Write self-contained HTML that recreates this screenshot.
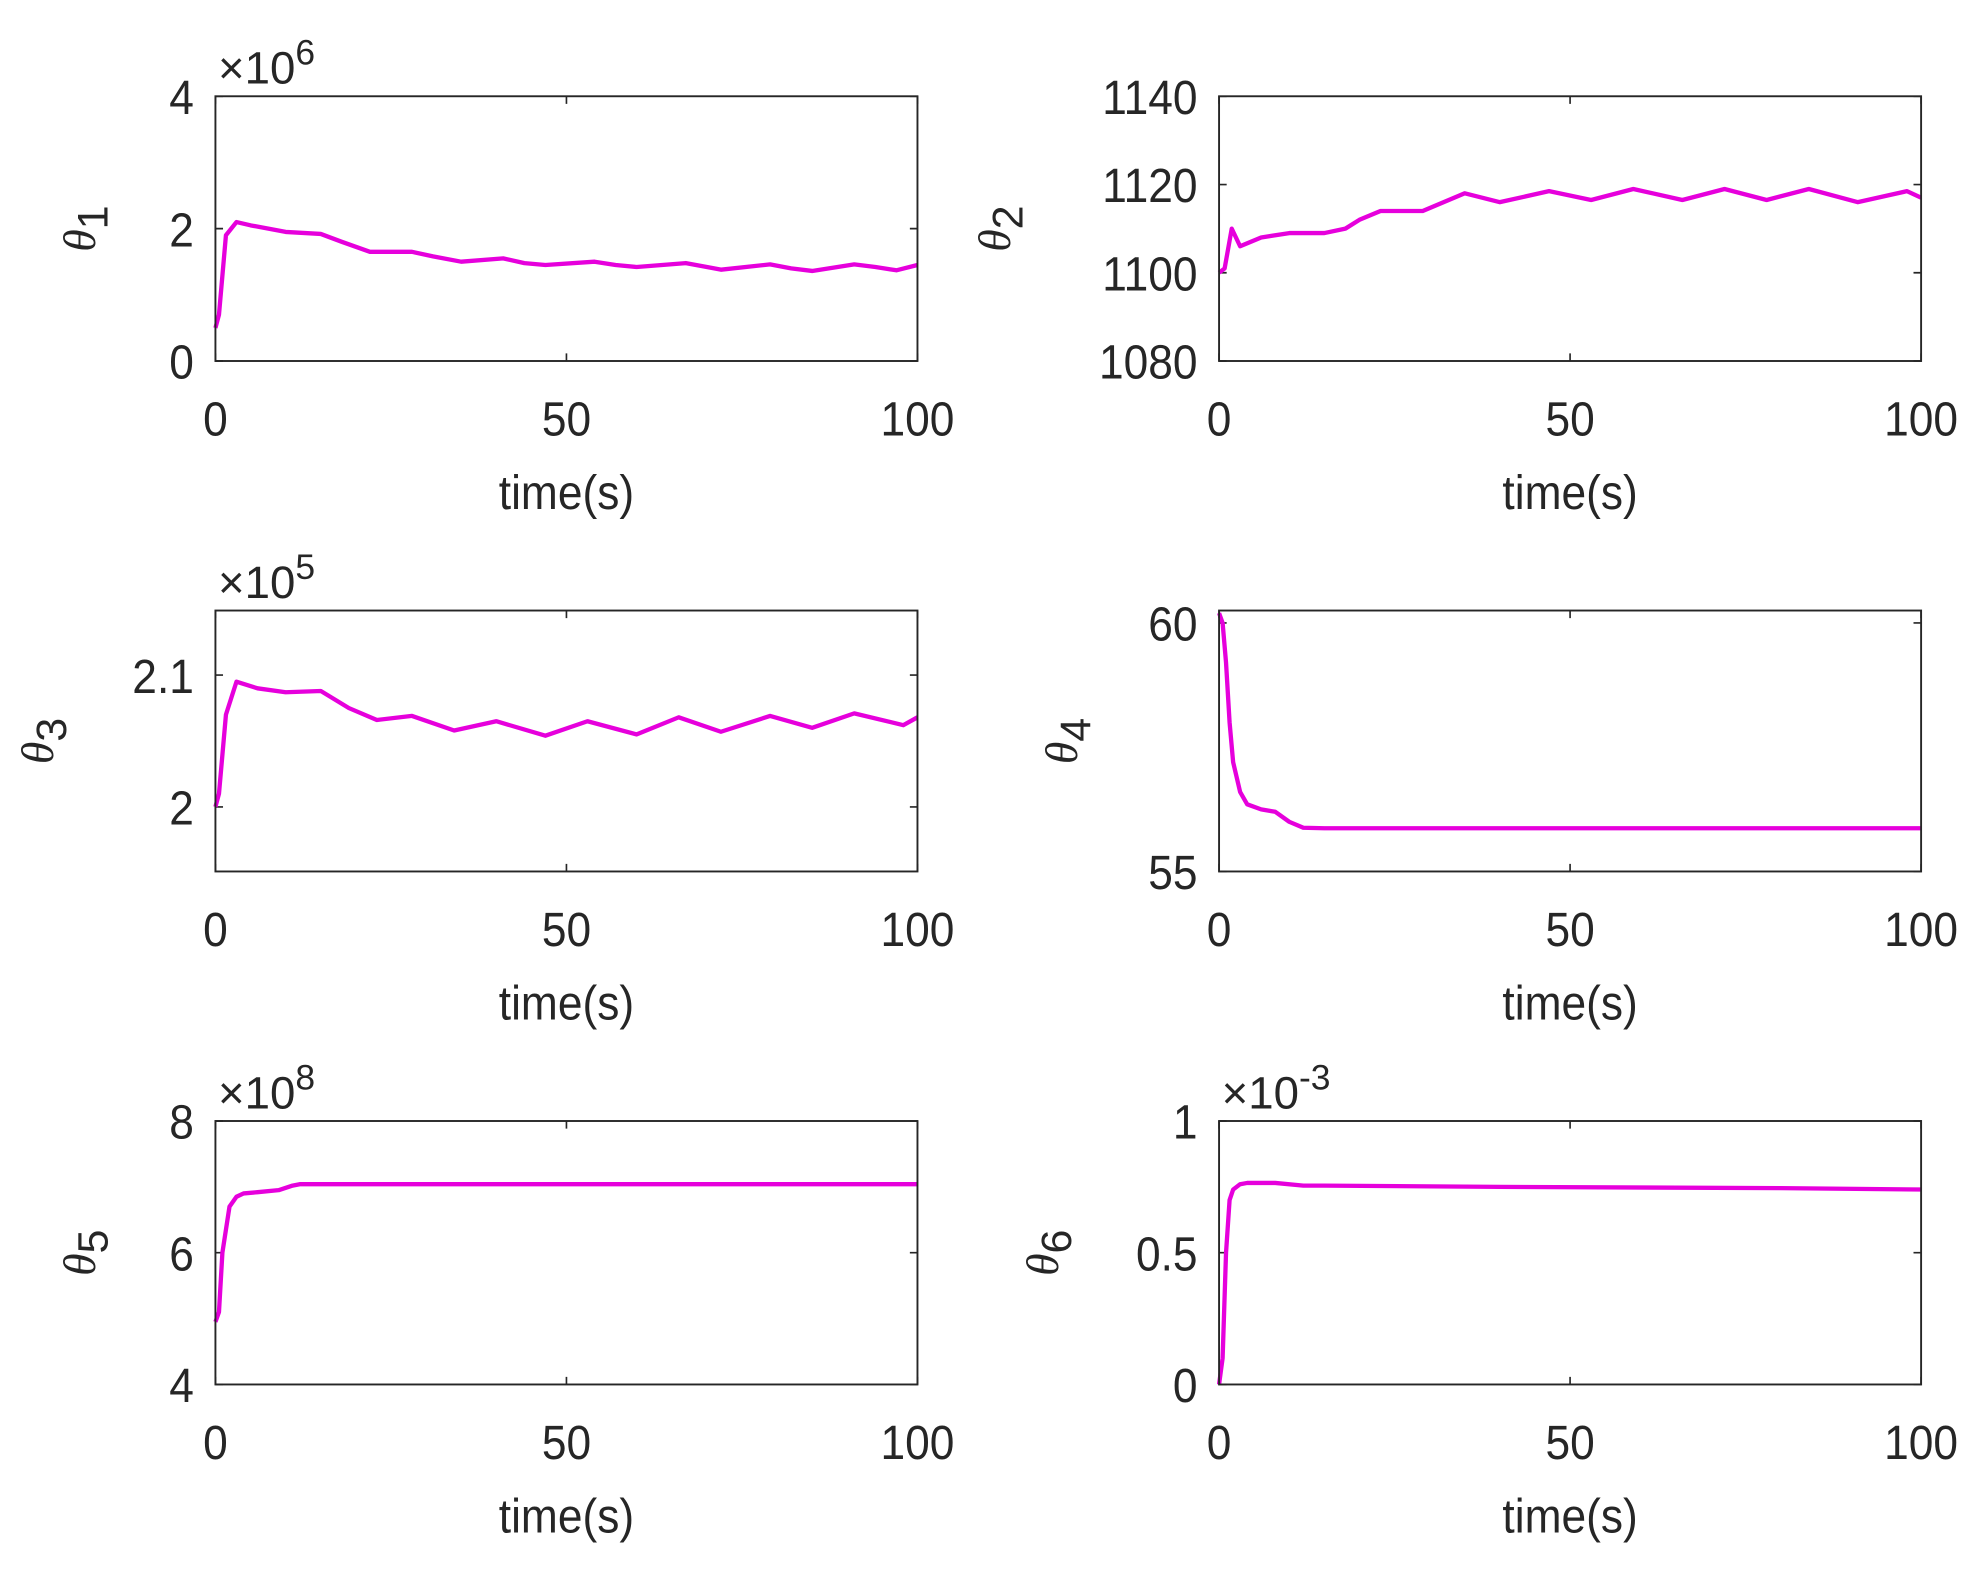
<!DOCTYPE html>
<html><head><meta charset="utf-8"><style>
html,body{margin:0;padding:0;background:#fff;}
svg{display:block;}
text{font-family:"Liberation Sans",Arial,sans-serif;fill:#262626;}
</style></head><body>
<svg id="fig" width="1987" height="1577" viewBox="0 0 1568 1245" preserveAspectRatio="none" xmlns="http://www.w3.org/2000/svg"></svg>
<script>
// time samples and series values
const t1 = [0,0.5,1.5,3,5,10,15,18,22,28,31,35,41,44,47,54,57,60,67,70,72,79,82,85,91,94,97,100];
const v1 = [0.5,0.7,1.9,2.1,2.05,1.95,1.92,1.8,1.65,1.65,1.58,1.5,1.55,1.48,1.45,1.5,1.45,1.42,1.48,1.42,1.38,1.46,1.4,1.36,1.46,1.42,1.37,1.45];
const t2 = [0,0.8,1.8,3,6,10,15,18,20,23,29,32,35,40,47,53,59,66,72,78,84,91,98,100];
const v2 = [1100,1101,1110,1106,1108,1109,1109,1110,1112,1114,1114,1116,1118,1116,1118.5,1116.5,1119,1116.5,1119,1116.5,1119,1116,1118.5,1117];
const t3 = [0,0.5,1.5,3,6,10,15,19,23,28,34,40,47,53,60,66,72,79,85,91,98,100];
const v3 = [2.0,2.01,2.07,2.095,2.09,2.087,2.088,2.075,2.066,2.069,2.058,2.065,2.054,2.065,2.055,2.068,2.057,2.069,2.06,2.071,2.062,2.068];
const t4 = [0,0.5,1,1.5,2,3,4,6,8,10,12,15,30,60,100];
const v4 = [60.2,60,59.2,58,57.2,56.6,56.35,56.25,56.2,56.0,55.88,55.87,55.87,55.87,55.87];
const t5 = [0,0.5,1,2,3,4,6,9,11,12,20,50,100];
const v5 = [4.95,5.1,6.0,6.7,6.85,6.9,6.92,6.95,7.02,7.04,7.04,7.04,7.04];
const t6 = [0,0.5,1,1.5,2,3,4,8,12,15,40,80,100];
const v6 = [0.0,0.1,0.5,0.7,0.74,0.76,0.765,0.765,0.755,0.755,0.75,0.745,0.74];
const xTicks = [0,50,100];
const yTicks1 = [0,2,4], yTicks2 = [1080,1100,1120,1140], yTicks3 = [2,2.1], yTicks4 = [55,60], yTicks5 = [4,6,8], yTicks6 = [0,0.5,1];
const yLabels3 = ['2','2.1'], yLabels6 = ['0','0.5','1'];

const svg = document.getElementById('fig');
const NS = 'http://www.w3.org/2000/svg';
function mk(tag, attrs, parent){const e=document.createElementNS(NS,tag);for(const k in attrs)e.setAttribute(k,attrs[k]);(parent||svg).appendChild(e);return e;}

const panels = [
 {id:1,x0:170,y0:76,y1:285,ymin:0,ymax:4,t:t1,v:v1,ticks:yTicks1,labs:null,exp:'6',labX:75},
 {id:2,x0:962,y0:76,y1:285,ymin:1080,ymax:1140,t:t2,v:v2,ticks:yTicks2,labs:null,exp:null,labX:797},
 {id:3,x0:170,y0:482,y1:688,ymin:1.951,ymax:2.149,t:t3,v:v3,ticks:yTicks3,labs:yLabels3,exp:'5',labX:42},
 {id:4,x0:962,y0:482,y1:688,ymin:55,ymax:60.25,t:t4,v:v4,ticks:yTicks4,labs:null,exp:null,labX:850},
 {id:5,x0:170,y0:885,y1:1093,ymin:4,ymax:8,t:t5,v:v5,ticks:yTicks5,labs:null,exp:'8',labX:75},
 {id:6,x0:962,y0:885,y1:1093,ymin:0,ymax:1,t:t6,v:v6,ticks:yTicks6,labs:yLabels6,exp:'-3',labX:835},
];
const W = 554;
panels.forEach(p=>{
  const g = mk('g',{});
  
  
  const xs = v=>p.x0+v/100*W;
  const ys = v=>p.y1-(v-p.ymin)/(p.ymax-p.ymin)*(p.y1-p.y0);
  xTicks.forEach(v=>{
    const x=xs(v);
    const tk=mk('path',{d:`M${x},${p.y1}v-6M${x},${p.y0}v6`,stroke:'#262626','stroke-width':1.3},g);
    
    
    const tl=mk('text',{x:0,y:0,'font-size':38,'text-anchor':'middle',transform:`translate(${x},${p.y1+59}) scale(0.92,1)`},g);
    tl.textContent=v;
    
    
  });
  p.ticks.forEach((v,i)=>{
    const y=ys(v);
    const tk=mk('path',{d:`M${p.x0},${y}h6M${p.x0+W},${y}h-6`,stroke:'#262626','stroke-width':1.3},g);
    
    
    const tl=mk('text',{x:0,y:0,'font-size':38,'text-anchor':'end',transform:`translate(${p.x0-17},${y+14}) scale(0.92,1)`},g);
    tl.textContent=p.labs?p.labs[i]:v;
    
    
  });
  const d = p.t.map((tv,i)=>(i?'L':'M')+xs(tv).toFixed(1)+','+ys(p.v[i]).toFixed(1)).join('');
  const ln=mk('path',{d:d,fill:'none',stroke:'#e600dc','stroke-width':3.4,'stroke-linejoin':'round'},g);
  
  
  const bx=mk('rect',{x:p.x0,y:p.y0,width:W,height:p.y1-p.y0,fill:'none',stroke:'#262626','stroke-width':1.5},g);
  
  
  const xl=mk('text',{x:0,y:0,'font-size':38,'text-anchor':'middle',transform:`translate(${p.x0+W/2},${p.y1+117}) scale(0.92,1)`},g);
  xl.textContent='time(s)';
  
  
  const cy=(p.y0+p.y1)/2;
  const yl=mk('text',{x:0,y:0,'font-size':36,'text-anchor':'middle',transform:`translate(${p.labX},${cy}) rotate(-90)`},g);
  yl.innerHTML='<tspan font-style="italic" font-family="Liberation Serif, serif">θ</tspan><tspan dy="10" font-size="34">'+p.id+'</tspan>';
  
  
  if(p.exp){
    const ex=mk('text',{x:p.x0+2,y:p.y0-10,'font-size':36},g);
    ex.innerHTML='×10<tspan dy="-15" font-size="28">'+p.exp+'</tspan>';
    
    
  }
});
</script>
</body></html>
